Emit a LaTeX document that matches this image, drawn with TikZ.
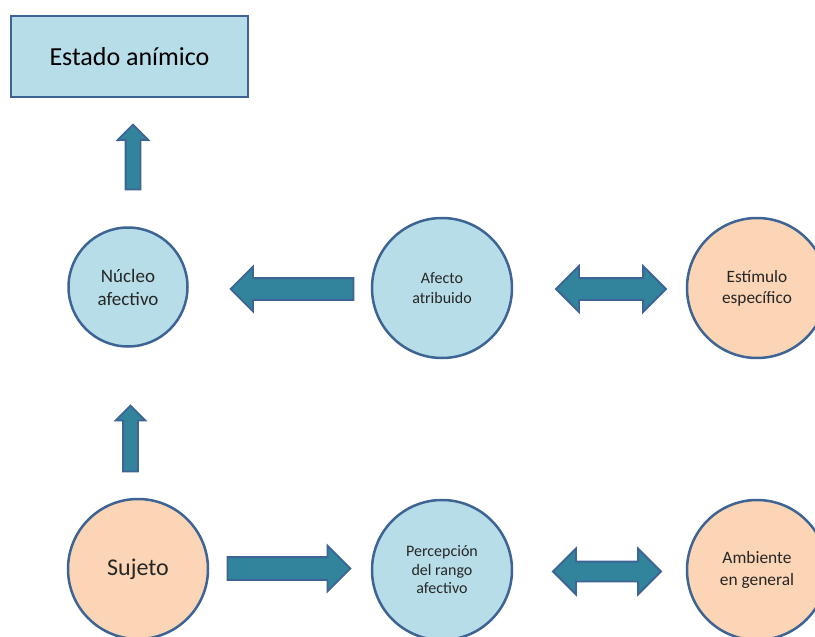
\documentclass[tikz,border=0pt]{standalone}
\usepackage{fontspec}
\setmainfont{Carlito}
\usetikzlibrary{shapes.arrows}
\definecolor{lblue}{HTML}{B7DDE8}
\definecolor{peach}{HTML}{FBD5B5}
\definecolor{bord}{HTML}{3D6494}
\definecolor{teal}{HTML}{31849B}
\begin{document}
\begin{tikzpicture}[x=1pt,y=-1pt,
  boxnode/.style={draw=bord,fill=lblue,line width=2.5pt,minimum width=237pt,minimum height=81pt,inner sep=0pt,font=\fontsize{26}{31}\selectfont},
  circnode/.style={circle,draw=bord,line width=2.5pt,inner sep=0pt,align=center,text=black!85},
  bluecirc/.style={circnode,fill=lblue},
  peachcirc/.style={circnode,fill=peach},
  sarrow/.style={single arrow,draw=bord,fill=teal,line width=1.8pt,inner xsep=0pt,single arrow tip angle=90,anchor=tip},
  darrow/.style={double arrow,draw=bord,fill=teal,line width=1.8pt,inner xsep=0pt,double arrow tip angle=90}
]
\useasboundingbox (0,0) rectangle (815,637);
\clip (0,0) rectangle (815,637);
\node[boxnode] (estado) at (129.5,56.5) {Estado anímico};
\node[bluecirc,minimum size=119pt,font=\fontsize{19}{23}\selectfont] (nucleo) at (128,287) {Núcleo\\afectivo};
\node[bluecirc,minimum size=140pt,font=\fontsize{16}{19.5}\selectfont] (afecto) at (442,288) {Afecto\\atribuido};
\node[peachcirc,minimum size=140pt,font=\fontsize{17.3}{21}\selectfont] (estimulo) at (757,288) {Estímulo\\específico};
\node[peachcirc,minimum size=140pt,font=\fontsize{24}{29}\selectfont] (sujeto) at (138,569) {Sujeto};
\node[bluecirc,minimum size=140pt,font=\fontsize{16}{18.5}\selectfont] (percepcion) at (442,570) {Percepción\\del rango\\afectivo};
\node[peachcirc,minimum size=140pt,font=\fontsize{17.4}{21.5}\selectfont] (ambiente) at (757,570) {Ambiente\\en general};
% block arrows
\node[sarrow,rotate=90,minimum height=65pt,minimum width=30pt,inner ysep=6.5pt,single arrow head extend=8pt] (up1) at (133,123.3) {};
\node[sarrow,rotate=180,minimum height=123pt,minimum width=44pt,inner ysep=10pt,single arrow head extend=11.5pt] (left1) at (229.3,289) {};
\node[darrow,minimum height=110pt,minimum width=45pt,inner ysep=10pt,double arrow head extend=12pt] (dbl1) at (611,289) {};
\node[sarrow,rotate=90,minimum height=66pt,minimum width=29pt,inner ysep=6.5pt,single arrow head extend=7.5pt] (up2) at (130.5,404.3) {};
\node[sarrow,minimum height=123pt,minimum width=45pt,inner ysep=10.5pt,single arrow head extend=11.5pt] (right1) at (351.7,568.5) {};
\node[darrow,minimum height=108pt,minimum width=45pt,inner ysep=9pt,double arrow head extend=13pt] (dbl2) at (607,571.5) {};
\end{tikzpicture}
\end{document}
